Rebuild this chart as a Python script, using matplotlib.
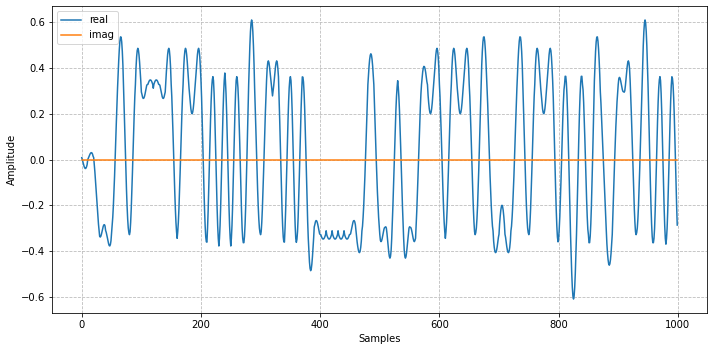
import numpy as np
import matplotlib.pyplot as plt

# BPSK symbols (one every 10 samples, first one at sample 30)
sps = 10
beta = 0.1
level = 0.312
symbols = [-1, -1, -1, 1, 1, -1, 1, 1, 1, 1,
           1, 1, 1, -1, 1, 1, 1, 1, -1, 1,
           -1, 1, -1, 1, -1, 1, 1, -1, 1, 1,
           1, -1, 1, -1, 1, -1, -1, -1, -1, -1,
           -1, -1, -1, -1, -1, 1, 1, -1, -1, -1,
           1, -1, -1, -1, 1, 1, 1, 1, -1, 1,
           1, 1, 1, -1, 1, 1, -1, -1, -1, -1,
           1, 1, -1, 1, 1, 1, 1, -1, 1, -1,
           -1, 1, -1, 1, 1, -1, -1, 1, 1, 1,
           -1, 1, 1, -1, 1, -1, 1, -1]
num_samples = 1000


def rrc(t, beta, Ts):
    x = t / Ts
    h = np.zeros(len(x))
    for i, v in enumerate(x):
        if v == 0:
            h[i] = 1 - beta + 4 * beta / np.pi
        elif abs(abs(4 * beta * v) - 1) < 1e-9:
            h[i] = beta / np.sqrt(2) * ((1 + 2 / np.pi) * np.sin(np.pi / (4 * beta))
                                        + (1 - 2 / np.pi) * np.cos(np.pi / (4 * beta)))
        else:
            h[i] = (np.sin(np.pi * v * (1 - beta)) + 4 * beta * v * np.cos(np.pi * v * (1 + beta))) \
                   / (np.pi * v * (1 - (4 * beta * v) ** 2))
    return h


# pulse shaping with a root raised cosine filter (61 taps)
pulse_train = np.zeros(len(symbols) * sps)
pulse_train[::sps] = symbols
t = np.arange(-30, 31)
h = rrc(t, beta, sps)
h = h / np.sum(h[::sps])
samples = level * np.convolve(pulse_train, h)[:num_samples]
samples = samples + 0j

fig = plt.figure(figsize=(712 / 72, 352 / 72), dpi=72)
fig.subplots_adjust(left=52 / 712, right=707 / 712, top=1 - 6 / 352, bottom=1 - 313 / 352)
ax = fig.add_subplot(111)

ax.plot(samples.real, label='real')
ax.plot(samples.imag, label='imag')

ax.grid(True, linestyle='--', color='#bbbbbb', linewidth=0.8)
ax.set_xlabel('Samples')
ax.set_ylabel('Amplitude')
ax.legend(loc='upper left')

fig.savefig('out.png', dpi=72)
